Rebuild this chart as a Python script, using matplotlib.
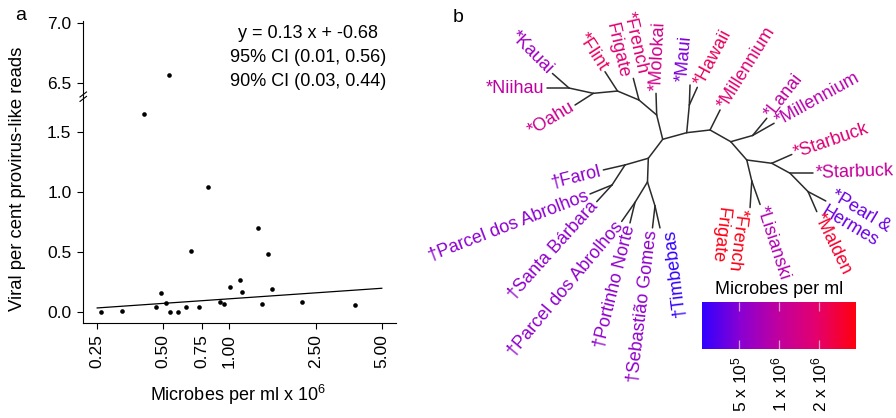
import numpy as np
import matplotlib
matplotlib.use('Agg')
import matplotlib.pyplot as plt
from matplotlib.colors import LinearSegmentedColormap, LogNorm
from matplotlib.cm import ScalarMappable
from matplotlib.ticker import FormatStrFormatter, NullLocator
from matplotlib.lines import Line2D

plt.rcParams['font.family'] = ['Liberation Sans', 'DejaVu Sans']
plt.rcParams['mathtext.default'] = 'regular'
plt.rcParams['font.size'] = 13

# ---- panel a: microbes per ml (x 10^6) vs viral per cent provirus-like reads
microbes = [0.26, 0.325, 0.466, 0.489, 0.515, 0.538, 0.583, 0.637, 0.668, 0.732,
            0.805, 0.914, 0.95, 1.012, 1.128, 1.144, 1.359, 1.422, 1.505, 1.579,
            2.166, 3.763, 0.533, 0.409]
viral = [0.005, 0.013, 0.047, 0.163, 0.075, 0.005, 0.005, 0.047, 0.513, 0.041,
         1.047, 0.088, 0.066, 0.213, 0.272, 0.172, 0.705, 0.072, 0.488, 0.197,
         0.088, 0.063, 6.572, 1.65]
fit_x = [0.25, 5.0]
fit_y = [0.036, 0.200]
fit_text = ['y = 0.13 x + -0.68', '95% CI (0.01, 0.56)', '90% CI (0.03, 0.44)']
x_ticks = [0.25, 0.5, 0.75, 1.0, 2.5, 5.0]
x_ticklabels = ['0.25', '0.50', '0.75', '1.00', '2.50', '5.00']
y_ticks_lo = [0.0, 0.5, 1.0, 1.5]
y_ticks_hi = [6.5, 7.0]

# ---- panel b: unrooted tree, branch length and branch angle for every edge
edge_child = ['m', 'molokai', 'ff', 'french1', 'fn', 'flint', 'kno', 'oahu', 'kn', 'kauai', 'niihau',
              'h1', 'mh', 'maui', 'hawaii', 'h2', 'millennium1', 'h3', 'lm', 'lanai', 'millennium2',
              'h4', 's', 'starbuck1', 's2', 'starbuck2', 'pm', 'pearl', 'malden', 'fl', 'french2', 'lisianski',
              'b', 'c', 'farol', 'd', 'parcel1', 'santabarbara', 'e', 'f', 'parcel2', 'portinho',
              'g', 'sebastiao', 'timbebas']
edge_parent = ['root', 'm', 'm', 'ff', 'ff', 'fn', 'fn', 'kno', 'kno', 'kn', 'kn',
               'root', 'h1', 'mh', 'mh', 'h1', 'h2', 'h2', 'h3', 'lm', 'lm',
               'h3', 'h4', 's', 's', 's2', 's2', 'pm', 'pm', 'h4', 'fl', 'fl',
               'root', 'b', 'c', 'c', 'd', 'd', 'b', 'e', 'f', 'f',
               'e', 'g', 'g']
edge_len = [25.0, 21.7, 23.2, 22.4, 23.3, 23.0, 24.3, 21.7, 24.9, 22.0, 22.0,
            24.9, 27.8, 20.0, 19.4, 23.5, 22.4, 23.8, 22.7, 22.3, 24.7,
            24.3, 25.2, 21.9, 20.9, 23.3, 25.7, 20.0, 21.8, 21.6, 26.6, 24.9,
            23.8, 24.2, 22.3, 23.9, 23.8, 22.6, 23.7, 24.0, 23.2, 21.1,
            25.1, 22.1, 22.6]
edge_ang = [103.9, 91.8, 139.7, 104.7, 157.3, 122.9, 185.4, 212.6, 167.7, 138.7, 180.0,
            15.4, 84.6, 88.0, 65.7, 6.6, 63.4, -29.5, 15.9, 50.5, 29.6,
            -48.8, -7.5, 23.7, -28.6, 0.0, -45.6, -27.8, -66.5, -76.6, -93.7, -70.5,
            232.8, 196.0, 193.0, 237.0, 202.2, 227.5, 268.0, 238.6, 235.0, 256.3,
            287.4, 263.5, 282.8]

leaf_ids = ['kauai', 'niihau', 'oahu', 'flint', 'french1', 'molokai', 'maui', 'hawaii',
            'millennium1', 'lanai', 'millennium2', 'starbuck1', 'starbuck2', 'pearl',
            'malden', 'lisianski', 'french2', 'timbebas', 'sebastiao', 'portinho',
            'parcel2', 'santabarbara', 'parcel1', 'farol']
leaf_text = ['*Kauai', '*Niihau', '*Oahu', '*Flint', '*French\nFrigate', '*Molokai', '*Maui',
             '*Hawaii', '*Millennium', '*Lanai', '*Millennium', '*Starbuck', '*Starbuck',
             '*Pearl &\nHermes', '*Malden', '*Lisianski', '*French\nFrigate', '\u2020Timbebas',
             '\u2020Sebasti\u00e3o Gomes', '\u2020Portinho Norte', '\u2020Parcel dos Abrolhos',
             '\u2020Santa B\u00e1rbara', '\u2020Parcel dos Abrolhos', '\u2020Farol']
leaf_microbes = [0.65, 0.95, 1.2, 2.1, 1.75, 1.3, 0.47, 2.1,
                 1.75, 0.95, 0.85, 1.75, 1.05, 0.40,
                 3.0, 0.80, 3.6, 0.27, 0.55, 0.55,
                 0.55, 0.55, 0.52, 0.55]
leaf_rot = [-45, 0, 31, -57, -77, 87, 85, 62,
            58, 52, 29, 19, 2, -31,
            -64, -72, -97, 97, 83, 76,
            50, 48, 21, 14]
leaf_side = ['end', 'end', 'end', 'end', 'end', 'start', 'start', 'start',
             'start', 'start', 'start', 'start', 'start', 'start',
             'start', 'start', 'start', 'end', 'end', 'end',
             'end', 'end', 'end', 'end']
leaf_va = ['center'] * 24
leaf_va[6] = 'bottom'   # Maui
leaf_va[16] = 'top'     # French Frigate (lower)
leaf_va[17] = 'top'     # Timbebas

cbar_ticks = [0.5, 1.0, 2.0]
cbar_ticklabels = ['5 x 10$^5$', '1 x 10$^6$', '2 x 10$^6$']

W, H = 896, 418


def fx(px):
    return px / W


def fy(py):
    return 1 - py / H


fig = plt.figure(figsize=(8.96, 4.18), dpi=100)

# ---------------- panel a (broken y axis)
ax_lo = fig.add_axes([fx(83.3), fy(323.3), fx(395.7) - fx(83.3), fy(96.7) - fy(323.3)])
ax_hi = fig.add_axes([fx(83.3), fy(96.7), fx(395.7) - fx(83.3), fy(20.7) - fy(96.7)])

for ax in (ax_lo, ax_hi):
    ax.scatter(microbes, viral, s=11, c='black', linewidths=0, zorder=3)
    ax.plot(fit_x, fit_y, color='black', lw=0.9)
    ax.set_xscale('log')
    ax.set_xlim(0.216, 5.79)
    ax.spines['top'].set_visible(False)
    ax.spines['right'].set_visible(False)
    ax.yaxis.set_major_formatter(FormatStrFormatter('%.1f'))
    ax.tick_params(axis='y', length=4, width=0.8, pad=4.5, labelsize=12.5)

ax_lo.set_ylim(-0.092, 1.797)
ax_hi.set_ylim(6.39, 7.023)
ax_lo.set_yticks(y_ticks_lo)
ax_hi.set_yticks(y_ticks_hi)
ax_hi.spines['bottom'].set_visible(False)
ax_hi.tick_params(axis='x', which='both', bottom=False, labelbottom=False)
ax_lo.set_xticks(x_ticks)
ax_lo.set_xticklabels(x_ticklabels, rotation=90)
ax_lo.xaxis.set_minor_locator(NullLocator())
ax_hi.xaxis.set_minor_locator(NullLocator())
ax_lo.tick_params(axis='x', length=4, width=0.8, pad=3.5, labelsize=12.5)

# break marks on the y axis
for dy in (-2.2, 2.2):
    fig.add_artist(Line2D([fx(80), fx(86.5)], [fy(96.7 + dy + 2.5), fy(96.7 + dy - 2.5)],
                          color='black', lw=0.8, transform=fig.transFigure))

for i, t in enumerate(fit_text):
    fig.text(fx(308), fy(33.3 + 24 * i), t, ha='center', va='center', fontsize=13)

fig.text(fx(17.5), fy(179), 'Viral per cent provirus-like reads', rotation=90,
         ha='center', va='center', fontsize=13.3)
fig.text(fx(238), fy(395), 'Microbes per ml x 10$^6$', ha='center', va='center', fontsize=13)
fig.text(fx(21), fy(15), 'a', ha='center', va='center', fontsize=14)
fig.text(fx(458), fy(17), 'b', ha='center', va='center', fontsize=14)

# ---------------- panel b (tree)
ax_b = fig.add_axes([0, 0, 1, 1])
ax_b.set_xlim(0, W)
ax_b.set_ylim(0, H)
ax_b.axis('off')

cmap = LinearSegmentedColormap.from_list('bluered', ['#3000ff', '#8a00d2', '#c0009e', '#e4006c', '#ff0010'])
norm = LogNorm(vmin=min(microbes), vmax=max(microbes))

pos = {'root': (662.7, H - 139.3)}
for child, parent, L, a in zip(edge_child, edge_parent, edge_len, edge_ang):
    x0, y0 = pos[parent]
    x1 = x0 + L * np.cos(np.radians(a))
    y1 = y0 + L * np.sin(np.radians(a))
    pos[child] = (x1, y1)
    ax_b.plot([x0, x1], [y0, y1], color='#2b2b2b', lw=1.1, solid_capstyle='round')

gap = 2.5
for name, txt, m, rot, side, va in zip(leaf_ids, leaf_text, leaf_microbes, leaf_rot, leaf_side, leaf_va):
    x, y = pos[name]
    dx, dy = np.cos(np.radians(rot)), np.sin(np.radians(rot))
    if side == 'start':
        ax_b.text(x + gap * dx, y + gap * dy, txt, rotation=rot, rotation_mode='anchor',
                  ha='left', va=va, color=cmap(norm(m)), fontsize=13, linespacing=1.15)
    else:
        ax_b.text(x - gap * dx, y - gap * dy, txt, rotation=rot, rotation_mode='anchor',
                  ha='right', va=va, color=cmap(norm(m)), fontsize=13, linespacing=1.15)

# colour bar
cax = fig.add_axes([fx(701.7), fy(349), fx(855.7) - fx(701.7), fy(302.3) - fy(349)])
cb = fig.colorbar(ScalarMappable(norm=norm, cmap=cmap), cax=cax, orientation='horizontal')
cb.outline.set_visible(False)
cb.set_ticks(cbar_ticks)
cb.set_ticklabels(cbar_ticklabels)
cax.xaxis.set_minor_locator(NullLocator())
cax.tick_params(axis='x', which='major', direction='in', length=6.5, width=0.9,
                color=(1, 1, 1, 0.6), top=True, bottom=True, labelrotation=90,
                pad=5, labelsize=12.5)
fig.text(fx(779), fy(289), 'Microbes per ml', ha='center', va='center', fontsize=13)

fig.savefig('out.png', dpi=100)
